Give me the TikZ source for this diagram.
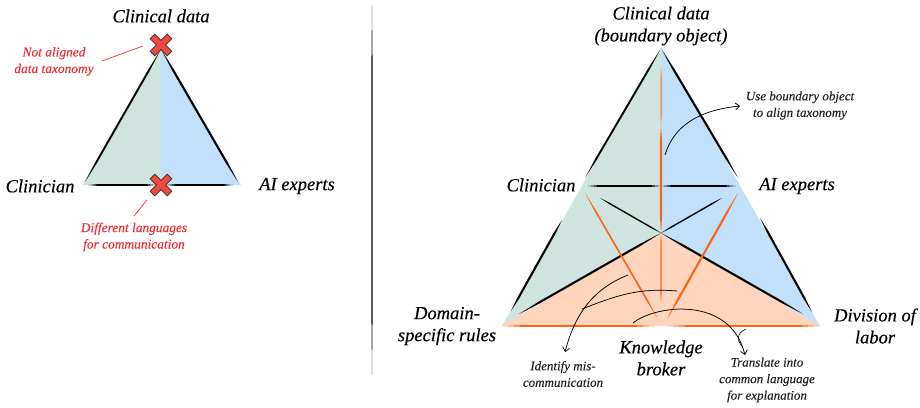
\documentclass[tikz,border=0pt]{standalone}
\usepackage{fontspec}
\setmainfont{Liberation Serif}
\newfontfamily\lab{Liberation Serif Italic}[FakeBold=0.35]
\newfontfamily\nt{Liberation Serif Italic}[FakeBold=0.05]
\usetikzlibrary{calc,arrows.meta}
\definecolor{cgreen}{HTML}{CFE3DF}
\definecolor{cblue}{HTML}{C3E0FB}
\definecolor{cpeach}{HTML}{FED4BD}
\definecolor{corange}{HTML}{FA6414}
\definecolor{cred}{HTML}{F04A3E}
\definecolor{cnote}{HTML}{F02A32}
\definecolor{cdark}{HTML}{3A2A28}
\newcommand{\brush}[4][black]{\fill[#1] (#2) -- ($(#2)!.15!(#3)!#4!90:(#3)$) -- ($(#2)!.85!(#3)!#4!90:(#3)$) -- (#3) -- ($(#2)!.85!(#3)!#4!-90:(#3)$) -- ($(#2)!.15!(#3)!#4!-90:(#3)$) -- cycle;}
\newcommand{\crossmark}[1]{%
 \begin{scope}[shift={(#1)},rotate=45]
  \fill[cdark] (-12.5pt,-3.6pt) rectangle (12.5pt,3.6pt);
  \fill[cdark] (-3.6pt,-12.5pt) rectangle (3.6pt,12.5pt);
  \fill[cred] (-11.5pt,-2.7pt) rectangle (11.5pt,2.7pt);
  \fill[cred] (-2.7pt,-11.5pt) rectangle (2.7pt,11.5pt);
 \end{scope}}
\tikzset{
 labeltext/.style={inner sep=0pt,align=center,font=\lab\fontsize{18.5}{22}\selectfont},
 notetext/.style={inner sep=0pt,align=center,text=black!88,font=\nt\fontsize{13}{16.5}\selectfont},
 rednote/.style={inner sep=0pt,align=center,text=cnote,font=\nt\fontsize{13.4}{16.5}\selectfont},
 callout/.style={line width=.75pt,-{Straight Barb[length=4pt,width=7pt]}},
 calloutplain/.style={line width=.75pt},
 redline/.style={cnote,line width=.7pt},
}
\begin{document}
\begin{tikzpicture}[x=1pt,y=-1pt]
\useasboundingbox (0,0) rectangle (920,407);
% left triangle
\coordinate (lt) at (161,47); \coordinate (ll) at (82,185); \coordinate (lr) at (241,185); \coordinate (lm) at (161,185);
\fill[cgreen] (lt) -- (ll) -- (lm) -- cycle;
\fill[cblue] (lt) -- (lm) -- (lr) -- cycle;
\brush{$(lt)+(-1,4)$}{$(ll)+(3,-3)$}{.95pt}
\brush{$(lt)+(1,4)$}{$(lr)+(-3,-3)$}{1.05pt}
\brush{$(ll)+(6,0)$}{$(lm)+(-5,0)$}{.9pt}
\brush{$(lm)+(5,0)$}{$(lr)+(-8,0)$}{.9pt}
\crossmark{161,45}
\crossmark{161,185}
\coordinate (n1a) at (102,61); \coordinate (n1b) at (143,46);
\coordinate (n2a) at (134,216); \coordinate (n2b) at (147,200);
\draw[redline] (n1a) -- (n1b);
\draw[redline] (n2a) -- (n2b);
\node[labeltext] (a1) at (161,16) {Clinical data};
\node[labeltext] (a2) at (40,186) {Clinician};
\node[labeltext] (a3) at (297,186) {AI experts};
\node[rednote] (a4) at (54,61.5) {Not aligned\\data taxonomy};
\node[rednote] (a5) at (134,237) {Different languages\\for communication};
% divider
\coordinate (da) at (372,5); \coordinate (db) at (372,375);
\brush{da}{db}{.55pt}
% right triangle
\coordinate (T) at (661,47); \coordinate (L) at (502,326); \coordinate (R) at (820,326);
\coordinate (C) at (661,233); \coordinate (M) at (661,326);
\coordinate (cl) at (582,185); \coordinate (ai) at (741,185); \coordinate (mid) at (661,186);
\fill[cgreen] (T) -- (L) -- (C) -- cycle;
\fill[cblue] (T) -- (C) -- (R) -- cycle;
\fill[cpeach] (L) -- (C) -- (R) -- cycle;
% outer edges
\brush{$(T)+(-1,3)$}{$(cl)+(3,-7)$}{.95pt}
\brush{$(T)+(1,3)$}{$(ai)+(-3,-7)$}{1.05pt}
\brush{$(cl)+(-20,35)$}{$(L)+(9,-15)$}{1.05pt}
\brush{$(ai)+(19,33)$}{$(R)+(-8,-14)$}{1.05pt}
% inner black
\brush{$(cl)+(6,1)$}{$(mid)$}{.9pt}
\brush{$(mid)$}{$(ai)+(-5,1)$}{.9pt}
\coordinate (il) at (600,198); \coordinate (ir) at (722,198);
\brush{il}{C}{.7pt}
\brush{ir}{C}{.7pt}
\coordinate (pl) at (519,314); \coordinate (pr) at (803,314);
\brush{C}{pl}{1.05pt}
\brush{C}{pr}{1.05pt}
% orange
\coordinate (ov) at (661,68); \coordinate (ovm) at (661,125); \coordinate (ovb) at (661,302);
\brush[corange]{ov}{ovm}{.5pt}
\brush[corange]{ovm}{C}{1.05pt}
\brush[corange]{C}{ovb}{.7pt}
\coordinate (ol1) at (585,193); \coordinate (ol2) at (658,319);
\coordinate (or1) at (738,193); \coordinate (or2) at (667,319);
\brush[corange]{ol1}{ol2}{.8pt}
\brush[corange]{or1}{or2}{1.05pt}
\brush[corange]{L}{$(M)+(-6,0)$}{.95pt}
\brush[corange]{$(M)+(6,0)$}{R}{.95pt}
% callouts
\coordinate (c1a) at (665,155); \coordinate (c1b) at (740,106);
\draw[callout] (c1a) .. controls (674,125) and (700,110) .. (c1b);
\coordinate (c2a) at (628,275); \coordinate (c2b) at (565,352);
\draw[callout] (c2a) .. controls (590,290) and (574,318) .. (c2b);
\coordinate (c3a) at (677,291); \coordinate (c3b) at (582,309);
\draw[calloutplain] (c3a) .. controls (640,288) and (620,294) .. (c3b);
\coordinate (c4a) at (633,323); \coordinate (c4b) at (745,355);
\draw[callout] (c4a) .. controls (655,305) and (730,295) .. (c4b);
\coordinate (c5a) at (746,329); \coordinate (c5b) at (742,346);
\draw[line width=.6pt] (c5a) .. controls (737,333) and (736,340) .. (c5b);
% text
\node[labeltext] (b1) at (661,26) {Clinical data\\(boundary object)};
\node[labeltext] (b2) at (541,185) {Clinician};
\node[labeltext] (b3) at (797,186) {AI experts};
\node[labeltext] (b4) at (447,326) {Domain-\\specific rules};
\node[labeltext] (b5) at (875,326) {Division of\\labor};
\node[labeltext] (b6) at (661,358) {Knowledge\\broker};
\node[notetext] (b7) at (800,105.5) {Use boundary object\\to align taxonomy};
\node[notetext] (b8) at (563,374) {Identify mis-\\communication};
\node[notetext] (b9) at (767,380) {Translate into\\common language\\for explanation};
\end{tikzpicture}
\end{document}
